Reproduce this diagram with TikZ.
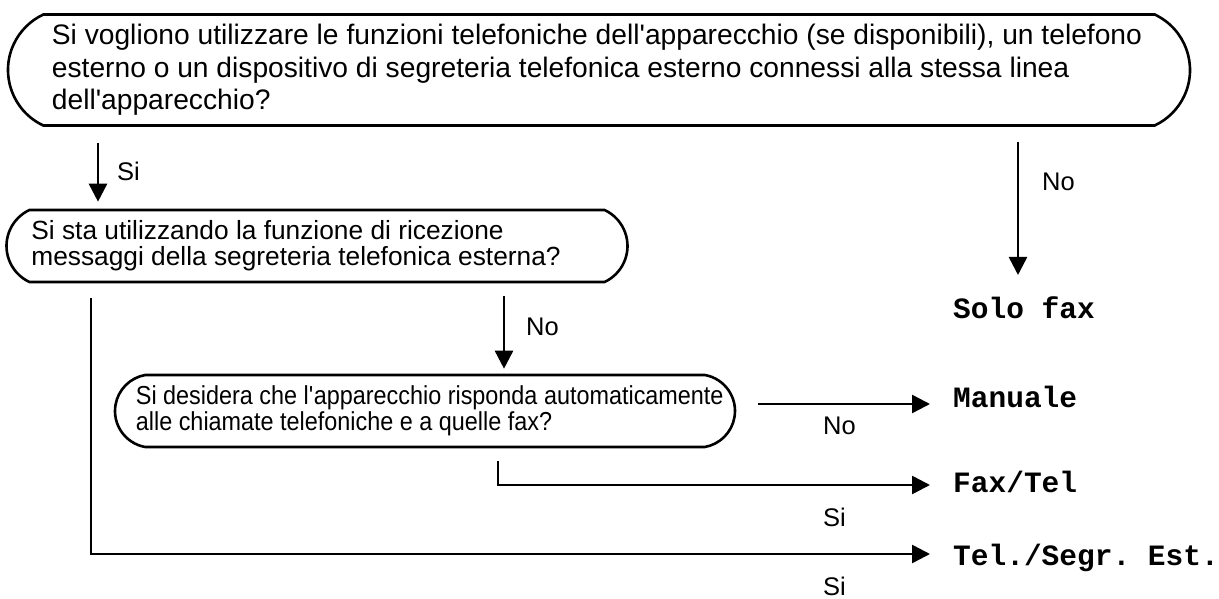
\documentclass[tikz,border=0pt]{standalone}
\usepackage{fontspec}
\setmainfont{Liberation Sans}
\setmonofont{Liberation Mono}
\newfontfamily\narrowsans[FakeStretch=0.9]{Liberation Sans}
\usetikzlibrary{arrows.meta,shapes.misc,positioning}
\newcommand\apo{\textquotesingle}
\tikzset{
  qbox/.style={draw, line width=2.6pt, rounded rectangle, inner sep=0pt},
  qtxt/.style={align=left, inner sep=0pt},
  arr/.style={line width=2.6pt, -{Triangle[length=18pt,width=18pt]}},
  lbl/.style={font=\fontsize{25.5}{28}\selectfont, anchor=west, inner sep=0pt},
  mode/.style={font=\fontsize{29.5}{32}\selectfont\ttfamily\bfseries, anchor=base west, inner sep=0pt}}

\begin{document}
\begin{tikzpicture}[x=1pt,y=-1pt]
  \useasboundingbox (0,0) rectangle (1219,599);
  % columns of the vertical connectors
  \coordinate (siX) at (98,0);
  \coordinate (noX) at (1018,0);
  \coordinate (leftX) at (91,0);
  \coordinate (noY) at (504,0);
  \coordinate (faxX) at (498,0);

  % question boxes
  \node[qbox, minimum width=1182pt, minimum height=111pt, rounded rectangle arc length=130] (qTop) at (599,70) {};
  \node[qtxt, font=\fontsize{28.2}{32.5}\selectfont, right=45pt of qTop.west] (qTopTxt)
    {Si vogliono utilizzare le funzioni telefoniche dell\apo apparecchio (se disponibili), un telefono\\
     esterno o un dispositivo di segreteria telefonica esterno connessi alla stessa linea\\
     dell\apo apparecchio?};
  \node[qbox, minimum width=621pt, minimum height=72pt, rounded rectangle arc length=130] (qUse) at (317,246) {};
  \node[qtxt, font=\fontsize{26.3}{26}\selectfont, right=26pt of qUse.west] (qUseTxt)
    {Si sta utilizzando la funzione di ricezione\\messaggi della segreteria telefonica esterna?};
  \node[qbox, minimum width=620pt, minimum height=72pt, rounded rectangle arc length=160] (qAuto) at (425,411) {};
  \node[qtxt, font=\fontsize{26}{26}\selectfont\narrowsans, right=22pt of qAuto.west] (qAutoTxt)
    {Si desidera che l\apo apparecchio risponda automaticamente\\alle chiamate telefoniche e a quelle fax?};

  % receive modes
  \node[mode] (solo) at (953,318) {Solo fax};
  \node[mode] (man) at (953,407) {Manuale};
  \node[mode] (fax) at (953,492) {Fax/Tel};
  \node[mode] (tel) at (953,565) {Tel./Segr. Est.};
  \coordinate (manIn) at ([yshift=3pt]man.base west);
  \coordinate (faxIn) at ([yshift=7pt]fax.base west);
  \coordinate (telIn) at ([yshift=11pt]tel.base west);

  % answers
  \node[lbl] (siA) at (117,171) {Si};
  \node[lbl] (noA) at (1042,182) {No};
  \node[lbl] (noB) at (526,327) {No};
  \node[lbl] (noC) at (823,426) {No};
  \node[lbl] (siB) at (823,517) {Si};
  \node[lbl] (siC) at (823,586) {Si};

  % connectors
  \draw[arr, shorten <=16pt, shorten >=7pt] (qTop.south -| siX) -- (qUse.north -| siX);
  \draw[arr, shorten <=15pt, shorten >=21pt] (qTop.south -| noX) -- (solo.north -| noX);
  \draw[arr, shorten <=13pt, shorten >=5pt] (qUse.south -| noY) -- (qAuto.north -| noY);
  \draw[arr, shorten <=22pt, shorten >=23pt] (qAuto.east |- manIn) -- (manIn);
  \draw[arr, shorten <=13pt, shorten >=23pt] (qAuto.south -| faxX) |- (faxIn);
  \draw[arr, shorten <=15pt, shorten >=23pt] (qUse.south -| leftX) |- (telIn);
\end{tikzpicture}
\end{document}
